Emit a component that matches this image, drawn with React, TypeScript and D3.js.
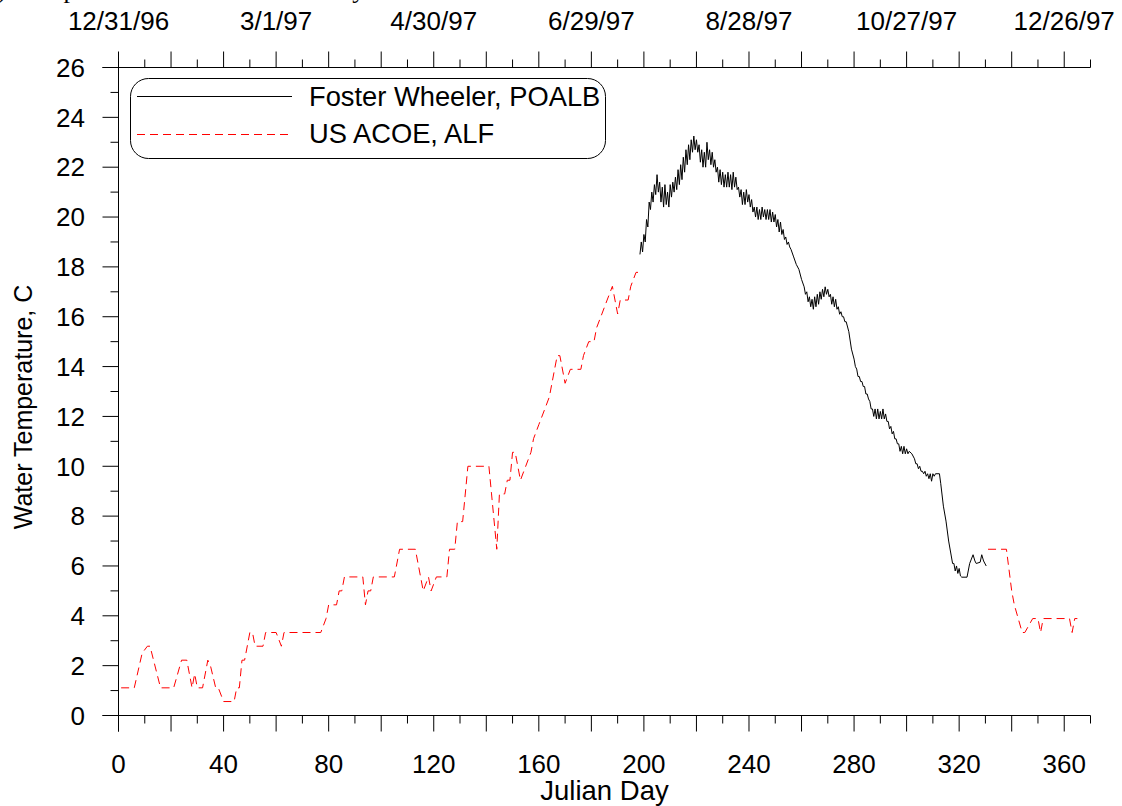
import React from "react";
import * as d3 from "d3";

const W = 1122;
const H = 806;

// Julian-day tick values
const xMajorTicks = d3.range(0, 371, 20);
const xMinorTicks = d3.range(10, 371, 20);
const xLabelDays = [0, 40, 80, 120, 160, 200, 240, 280, 320, 360];
const topLabelDays = [0, 60, 120, 180, 240, 300, 360];
const topLabels = ["12/31/96", "3/1/97", "4/30/97", "6/29/97", "8/28/97", "10/27/97", "12/26/97"];
const yMajorTicks = d3.range(0, 27, 2);
const yMinorTicks = d3.range(1, 26, 2);

// US ACOE, ALF (day, temperature C)
const alfEarly: [number, number][] = [
  [1, 1.11], [6, 1.11], [9, 2.5], [11, 2.78], [12, 2.78], [16, 1.11], [21, 1.11],
  [24, 2.22], [26, 2.22], [28, 1.11], [29, 1.67], [30, 1.11], [32, 1.11], [34, 2.22],
  [35, 2.0], [37, 1.11], [38, 1.11], [40, 0.56], [44, 0.56], [45, 1.11], [46, 1.11],
  [47, 2.22], [48, 2.22], [50, 3.33], [51, 3.33], [52, 2.78], [55, 2.78], [56, 3.33],
  [60, 3.33], [62, 2.78], [63, 3.33], [77, 3.33], [79, 3.89], [80, 4.44], [83, 4.44],
  [84, 5.0], [85, 5.0], [86, 5.56], [93, 5.56], [94, 4.44], [95, 5.0], [96, 5.0],
  [97, 5.56], [105, 5.56], [107, 6.67], [113, 6.67], [116, 5.0], [118, 5.56], [119, 5.0],
  [121, 5.56], [125, 5.56], [126, 6.67], [128, 6.67], [129, 7.78], [131, 7.78], [133, 10.0],
  [141, 10.0], [142, 8.89], [144, 6.67], [145, 8.89], [147, 8.89], [148, 9.44], [149, 9.44],
  [150, 10.56], [151, 10.56], [153, 9.44], [155, 10.0], [157, 10.56], [158, 11.11],
  [160, 11.67], [162, 12.22], [164, 12.78], [166, 13.89], [167, 14.44], [168, 14.44],
  [170, 13.33], [172, 13.89], [176, 13.89], [177, 14.44], [179, 15.0], [181, 15.0],
  [182, 15.56], [184, 16.11], [186, 16.67], [188, 17.22], [190, 16.11], [191, 16.67],
  [194, 16.67], [195, 17.22], [197, 17.78], [198, 17.78],
];
const alfLate: [number, number][] = [
  [331, 6.67], [338, 6.67], [340, 5.0], [341, 4.44], [344, 3.33], [345, 3.33], [348, 3.89],
  [350, 3.89], [351, 3.33], [352, 3.89], [362, 3.89], [363, 3.33], [364, 3.89], [365, 3.89],
];

// Foster Wheeler, POALB (day, temperature C)
const poalb: [number, number][] = [
  [198.5, 18.5], [199, 19.0], [199.5, 18.6], [200, 19.3], [200.5, 19.0], [201, 19.9], [201.5, 19.6],
  [202, 20.6], [202.5, 20.3], [203, 21.0], [203.5, 20.6], [204, 21.3], [204.5, 20.9], [205, 21.7],
  [205.5, 21.0], [206, 21.4], [206.5, 20.6], [207, 21.2], [207.5, 20.4], [208, 21.3], [208.5, 20.5],
  [209, 21.0], [209.5, 20.4], [210, 21.3], [210.5, 20.8], [211, 21.4], [211.5, 21.0], [212, 21.6],
  [212.5, 21.1], [213, 21.9], [213.5, 21.3], [214, 22.1], [214.5, 21.5], [215, 22.4], [215.5, 21.8],
  [216, 22.7], [216.5, 22.1], [217, 22.9], [217.5, 22.3], [218, 23.1], [218.5, 22.6], [219, 23.25],
  [219.5, 22.7], [220, 23.1], [220.5, 22.6], [221, 22.9], [221.5, 22.2], [222, 22.7], [222.5, 22.0],
  [223, 22.6], [223.5, 22.0], [224, 23.0], [224.5, 22.3], [225, 22.7], [225.5, 22.1], [226, 22.6],
  [226.5, 22.0], [227, 22.3], [227.5, 21.8], [228, 22.0], [228.5, 21.4], [229, 21.9], [229.5, 21.3],
  [230, 21.8], [230.5, 21.2], [231, 21.7], [231.5, 21.2], [232, 21.8], [232.5, 21.2], [233, 21.7],
  [233.5, 21.1], [234, 21.8], [234.5, 21.2], [235, 21.6], [235.5, 21.1], [236, 21.2], [236.5, 20.8],
  [237, 21.1], [237.5, 20.5], [238, 21.0], [238.5, 20.5], [239, 21.1], [239.5, 20.6], [240, 20.9],
  [240.5, 20.4], [241, 20.7], [241.5, 20.2], [242, 20.4], [242.5, 20.0], [243, 20.4], [243.5, 19.9],
  [244, 20.3], [244.5, 19.9], [245, 20.4], [245.5, 20.0], [246, 20.3], [246.5, 19.9], [247, 20.3],
  [247.5, 19.9], [248, 20.3], [248.5, 19.8], [249, 20.2], [249.5, 19.8], [250, 20.1], [250.5, 19.6],
  [251, 19.9], [251.5, 19.4], [252, 19.8], [252.5, 19.3], [253, 19.5], [253.5, 19.1], [254, 19.2],
  [254.5, 18.9], [255, 19.0], [255.5, 18.8], [256, 18.7], [257, 18.4], [258, 18.1], [259, 17.9],
  [260, 17.5], [261, 17.2], [261.5, 16.9], [262, 17.0], [262.5, 16.6], [263, 16.8], [263.5, 16.4],
  [264, 16.7], [264.5, 16.3], [265, 16.8], [265.5, 16.4], [266, 16.9], [266.5, 16.5], [267, 17.0],
  [267.5, 16.7], [268, 17.1], [268.5, 16.8], [269, 17.2], [269.5, 16.9], [270, 17.1], [270.5, 16.8],
  [271, 16.9], [271.5, 16.5], [272, 16.8], [272.5, 16.4], [273, 16.7], [273.5, 16.3], [274, 16.4],
  [274.5, 16.1], [275, 16.2], [275.5, 16.0], [276, 16.0], [276.5, 15.8], [277, 15.8], [278, 15.4],
  [279, 14.7], [280, 14.3], [280.5, 14.0], [281, 13.9], [281.5, 13.6], [282, 13.6], [282.5, 13.4],
  [283, 13.4], [283.5, 13.2], [284, 13.2], [284.5, 12.9], [285, 12.9], [285.5, 12.7], [286, 12.6],
  [286.5, 12.3], [287, 12.3], [287.5, 12.0], [288, 12.3], [288.5, 11.9], [289, 12.3], [289.5, 11.9],
  [290, 12.2], [290.5, 11.9], [291, 12.3], [291.5, 11.9], [292, 12.1], [292.5, 11.8], [293, 11.8],
  [293.5, 11.5], [294, 11.6], [294.5, 11.3], [295, 11.4], [295.5, 11.1], [296, 11.1], [296.5, 10.9],
  [297, 10.9], [297.5, 10.6], [298, 10.8], [298.5, 10.5], [299, 10.8], [299.5, 10.5], [300, 10.7],
  [300.5, 10.5], [301, 10.6], [302, 10.5], [303, 10.3], [303.5, 10.1], [304, 10.1], [304.5, 9.9],
  [305, 10.0], [305.5, 9.8], [306, 9.8], [306.5, 9.7], [307, 9.8], [307.5, 9.6], [308, 9.7],
  [308.5, 9.5], [309, 9.7], [309.5, 9.4], [310, 9.7], [310.5, 9.6], [311, 9.7], [312.5, 9.7],
  [313, 9.3], [314, 8.4], [315, 7.8], [316, 7.0], [317, 6.4], [317.5, 6.1], [318, 6.1],
  [318.5, 5.8], [319, 6.0], [319.5, 5.7], [320, 5.9], [320.5, 5.6], [321, 5.55], [323, 5.55],
  [324, 6.1], [325.3, 6.45], [326, 6.2], [326.5, 6.1], [328, 6.15], [328.6, 6.45], [329.3, 6.2],
  [330.3, 6.0],
];

const FONT = "'Liberation Sans', Arial, sans-serif";
const FS = 26;

export default function App() {
  const x = d3.scaleLinear().domain([0, 370]).range([118.5, 1090.5]);
  const y = d3.scaleLinear().domain([0, 26]).range([715.5, 67.5]);
  const line = d3
    .line<[number, number]>()
    .x((d) => x(d[0]))
    .y((d) => y(d[1]));

  const x0 = x(0);
  const x1 = x(370);
  const yBot = y(0);
  const yTop = y(26);
  const major = 16;
  const minor = 8;

  return (
    <svg
      width={W}
      height={H}
      style={{ position: "absolute", left: 0, top: 0, background: "#fff" }}
      fontFamily={FONT}
    >
      <rect x={0} y={0} width={W} height={H} fill="#fff" />
      {/* title line, clipped by the top edge as in the reference */}
      <text x={-24} y={-2} fontFamily="'Liberation Serif', 'Times New Roman', serif" fontSize={26} fill="#000">
        (b) Comparison of Measured Data by Station
      </text>

      {/* top axis */}
      <line x1={x0 - major} x2={x1} y1={yTop} y2={yTop} stroke="#000" />
      {xMajorTicks.map((d) => (
        <line key={"tM" + d} x1={x(d)} x2={x(d)} y1={yTop} y2={yTop - major} stroke="#000" />
      ))}
      {xMinorTicks.map((d) => (
        <line key={"tm" + d} x1={x(d)} x2={x(d)} y1={yTop} y2={yTop - minor} stroke="#000" />
      ))}
      {topLabelDays.map((d, i) => (
        <text key={"tl" + d} x={x(d)} y={30} textAnchor="middle" fontSize={FS} fill="#000">
          {topLabels[i]}
        </text>
      ))}

      {/* bottom axis */}
      <line x1={x0 - major} x2={x1} y1={yBot} y2={yBot} stroke="#000" />
      {xMajorTicks.map((d) => (
        <line key={"bM" + d} x1={x(d)} x2={x(d)} y1={yBot} y2={yBot + major} stroke="#000" />
      ))}
      {xMinorTicks.map((d) => (
        <line key={"bm" + d} x1={x(d)} x2={x(d)} y1={yBot} y2={yBot + minor} stroke="#000" />
      ))}
      {xLabelDays.map((d) => (
        <text key={"bl" + d} x={x(d)} y={773} textAnchor="middle" fontSize={FS} fill="#000">
          {d}
        </text>
      ))}
      <text x={(x0 + x1) / 2} y={800} textAnchor="middle" fontSize={27.5} fill="#000">
        Julian Day
      </text>

      {/* left axis */}
      <line x1={x0} x2={x0} y1={yTop} y2={yBot + major} stroke="#000" />
      {yMajorTicks.map((v) => (
        <line key={"yM" + v} x1={x0} x2={x0 - major} y1={y(v)} y2={y(v)} stroke="#000" />
      ))}
      {yMinorTicks.map((v) => (
        <line key={"ym" + v} x1={x0} x2={x0 - minor} y1={y(v)} y2={y(v)} stroke="#000" />
      ))}
      {yMajorTicks.map((v) => (
        <text key={"yl" + v} x={85} y={y(v) + 9.3} textAnchor="end" fontSize={FS} fill="#000">
          {v}
        </text>
      ))}
      <text
        transform={`translate(32,407) rotate(-90)`}
        textAnchor="middle"
        fontSize={25}
        fill="#000"
      >
        Water Temperature, C
      </text>

      {/* data */}
      <path d={line(alfEarly) || ""} fill="none" stroke="#ff0000" strokeWidth={1} strokeDasharray="8,5" />
      <path d={line(alfLate) || ""} fill="none" stroke="#ff0000" strokeWidth={1} strokeDasharray="8,5" />
      <path d={line(poalb) || ""} fill="none" stroke="#000" strokeWidth={1} />

      {/* legend */}
      <rect x={130.5} y={78.5} width={475} height={80} rx={18} ry={18} fill="#fff" stroke="#000" />
      <line x1={137} x2={292} y1={96.5} y2={96.5} stroke="#000" />
      <line x1={137} x2={292} y1={134.5} y2={134.5} stroke="#ff0000" strokeDasharray="8,5" />
      <text x={309} y={106} fontSize={27.3} fill="#000">
        Foster Wheeler, POALB
      </text>
      <text x={309} y={143} fontSize={27.3} fill="#000">
        US ACOE, ALF
      </text>
    </svg>
  );
}
